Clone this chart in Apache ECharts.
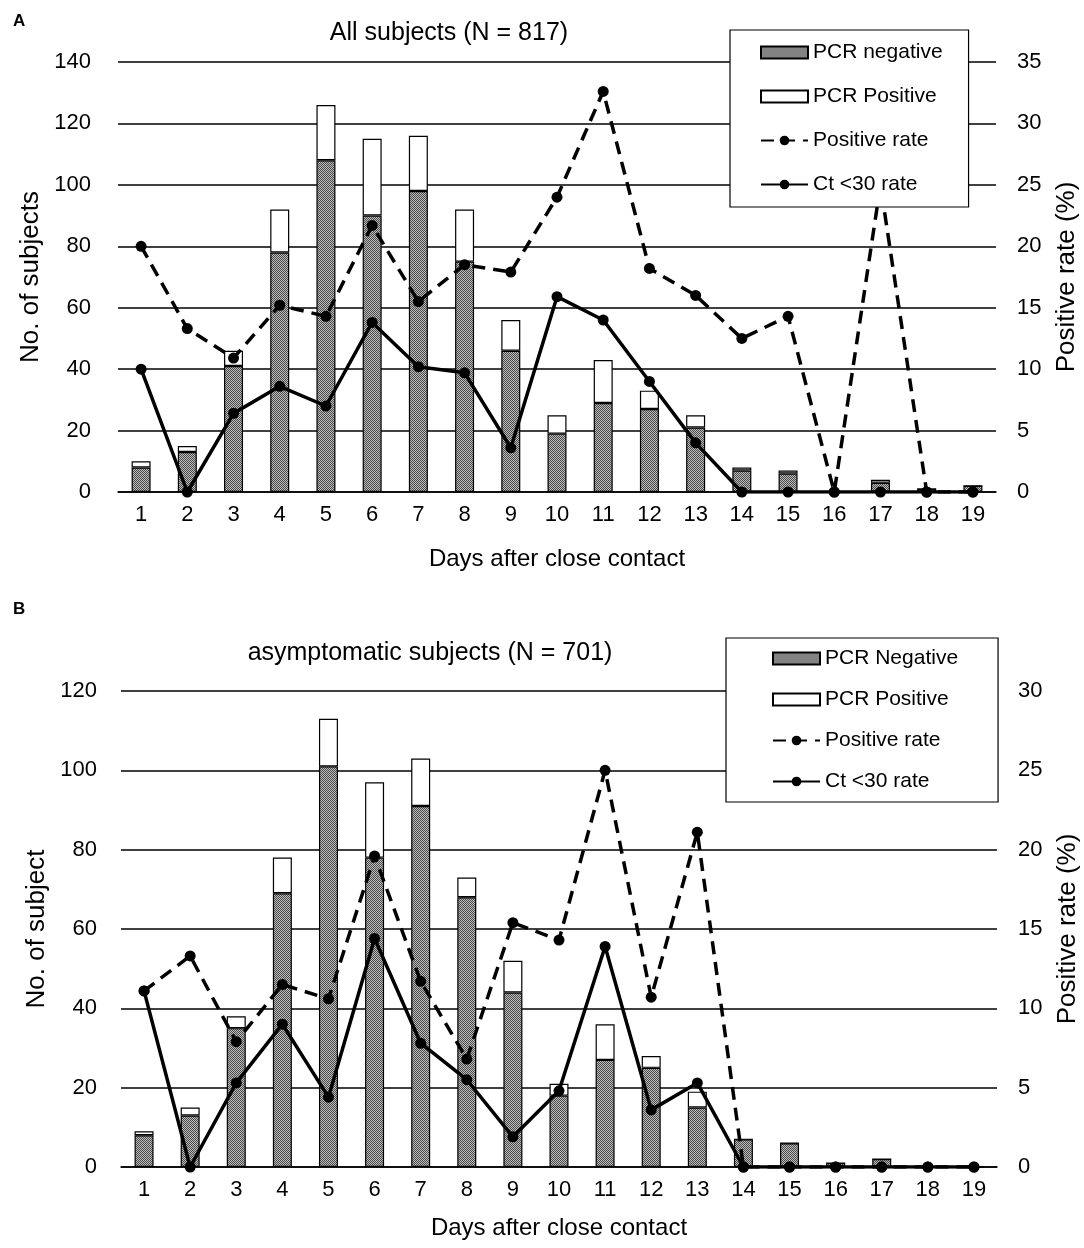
<!DOCTYPE html>
<html>
<head>
<meta charset="utf-8">
<script src="https://cdn.jsdelivr.net/npm/echarts@6/dist/echarts.min.js"></script>
<style>
  html, body { margin: 0; padding: 0; background: #fff; }
  #main { width: 1084px; height: 1248px; }
</style>
</head>
<body>
<div id="main"></div>
<script>
// ---- Data ----
const days = ['1','2','3','4','5','6','7','8','9','10','11','12','13','14','15','16','17','18','19'];

// Panel A: All subjects (N = 817)
const negA = [8, 13, 41, 78, 108, 90, 98, 75, 46, 19, 29, 27, 21, 7, 6, 0, 3, 1, 2];
const posA = [2, 2, 5, 14, 18, 25, 18, 17, 10, 6, 14, 6, 4, 1, 1, 0, 1, 0, 0];
const rateA = [20, 13.3, 10.9, 15.2, 14.3, 21.7, 15.5, 18.5, 17.9, 24, 32.6, 18.2, 16, 12.5, 14.3, 0, 25, 0, 0];
const ctA = [10, 0, 6.4, 8.6, 7.0, 13.8, 10.2, 9.7, 3.6, 15.9, 14.0, 9.0, 4.0, 0, 0, 0, 0, 0, 0];

// Panel B: asymptomatic subjects (N = 701)
const negB = [8, 13, 35, 69, 101, 78, 91, 68, 44, 18, 27, 25, 15, 7, 6, 1, 2, 0, 0];
const posB = [1, 2, 3, 9, 12, 19, 12, 5, 8, 3, 9, 3, 4, 0, 0, 0, 0, 0, 0];
const rateB = [11.1, 13.3, 7.9, 11.5, 10.6, 19.6, 11.7, 6.8, 15.4, 14.3, 25, 10.7, 21.1, 0, 0, 0, 0, 0, 0];
const ctB = [11.1, 0, 5.3, 9.0, 4.4, 14.4, 7.8, 5.5, 1.9, 4.8, 13.9, 3.6, 5.3, 0, 0, 0, 0, 0, 0];

const titleA = 'All subjects (N = 817)';
const titleB = 'asymptomatic subjects (N = 701)';

// ---- Pattern for PCR negative bars ----
const pc = document.createElement('canvas');
pc.width = 2; pc.height = 2;
const pctx = pc.getContext('2d');
pctx.fillStyle = '#bdbdbd'; pctx.fillRect(0, 0, 2, 2);
pctx.fillStyle = '#4a4a4a'; pctx.fillRect(0, 0, 1, 1); pctx.fillRect(1, 1, 1, 1);
const pattern = { image: pc, repeat: 'repeat' };

const FONT = 'Liberation Sans, Arial, sans-serif';
const txt = { fontFamily: FONT, color: '#000' };

function xAxisFor(gi, gap) {
  return {
    type: 'category', gridIndex: gi, data: days, boundaryGap: true,
    axisLine: { show: true, lineStyle: { color: '#000', width: 1.5 } },
    axisTick: { show: false },
    axisLabel: { ...txt, fontSize: 22, margin: 12 },
    name: 'Days after close contact', nameLocation: 'middle', nameGap: gap,
    nameTextStyle: { ...txt, fontSize: 24 }
  };
}
function yLeft(gi, max, name, margin, gap) {
  return {
    type: 'value', gridIndex: gi, min: 0, max: max, interval: 20, position: 'left',
    axisLine: { show: false }, axisTick: { show: false },
    axisLabel: { ...txt, fontSize: 22, margin: margin },
    splitLine: { show: true, lineStyle: { color: '#000', width: 1.5 } },
    name: name, nameLocation: 'middle', nameGap: gap, nameRotate: 90,
    nameTextStyle: { ...txt, fontSize: 26 }
  };
}
function yRight(gi, max, gap) {
  return {
    type: 'value', gridIndex: gi, min: 0, max: max, interval: 5, position: 'right',
    axisLine: { show: false }, axisTick: { show: false },
    axisLabel: { ...txt, fontSize: 22, margin: 21 },
    splitLine: { show: false },
    name: 'Positive rate (%)', nameLocation: 'middle', nameGap: gap, nameRotate: 90,
    nameTextStyle: { ...txt, fontSize: 26 }
  };
}
function barNeg(name, data, xi, yi, stack) {
  return { name: name, type: 'bar', xAxisIndex: xi, yAxisIndex: yi, stack: stack, data: data,
    barWidth: 19, itemStyle: { color: pattern, borderColor: '#000', borderWidth: 1.2 }, z: 2 };
}
function barPos(name, data, xi, yi, stack) {
  return { name: name, type: 'bar', xAxisIndex: xi, yAxisIndex: yi, stack: stack, data: data,
    barWidth: 19, itemStyle: { color: '#fff', borderColor: '#000', borderWidth: 1.2 }, z: 2 };
}
function lineS(name, data, xi, yi, dashed) {
  return { name: name, type: 'line', xAxisIndex: xi, yAxisIndex: yi, data: data,
    symbol: 'circle', symbolSize: 11, z: 3,
    lineStyle: { color: '#000', width: 3.5, type: dashed ? [13, 8] : 'solid' },
    itemStyle: { color: '#000' } };
}
function legendFor(names, left, top, gap, padding) {
  return {
    orient: 'vertical', left: left, top: top,
    data: [{ name: names[0], icon: 'rect' }, { name: names[1], icon: 'rect' }, names[2], names[3]],
    backgroundColor: '#fff', borderColor: '#000', borderWidth: 1.2,
    padding: padding, itemGap: gap, itemWidth: 47, itemHeight: 12,
    textStyle: { ...txt, fontSize: 21 }, selectedMode: false, z: 10
  };
}

const chart = echarts.init(document.getElementById('main'), null, { renderer: 'canvas' });
chart.setOption({
  backgroundColor: '#fff',
  animation: false,
  title: [
    { text: titleA, left: 444, top: 16, textAlign: 'center', textStyle: { ...txt, fontSize: 25, fontWeight: 'normal' } },
    { text: titleB, left: 425, top: 636, textAlign: 'center', textStyle: { ...txt, fontSize: 25, fontWeight: 'normal' } },
    { text: 'A', left: 8, top: 8, textStyle: { ...txt, fontSize: 17, fontWeight: 'bold' } },
    { text: 'B', left: 8, top: 596, textStyle: { ...txt, fontSize: 17, fontWeight: 'bold' } }
  ],
  grid: [
    { left: 118, top: 62, width: 878, height: 430, containLabel: false, outerBoundsMode: 'none' },
    { left: 121, top: 691, width: 876, height: 476, containLabel: false, outerBoundsMode: 'none' }
  ],
  legend: [
    legendFor(['PCR negative', 'PCR Positive', 'Positive rate', 'Ct <30 rate'], 730, 30, 23, [12, 26, 12, 30]),
    legendFor(['PCR Negative', 'PCR Positive', 'Positive rate', 'Ct <30 rate'], 726, 638, 20, [10, 40, 10, 46])
  ],
  xAxis: [xAxisFor(0, 55), xAxisFor(1, 49)],
  yAxis: [
    yLeft(0, 140, 'No. of subjects', 27, 67),
    yRight(0, 35, 58),
    yLeft(1, 120, 'No. of subject', 24, 71),
    yRight(1, 30, 58)
  ],
  series: [
    barNeg('PCR negative', negA, 0, 0, 'A'),
    barPos('PCR Positive', posA, 0, 0, 'A'),
    lineS('Positive rate', rateA, 0, 1, true),
    lineS('Ct <30 rate', ctA, 0, 1, false),
    barNeg('PCR Negative', negB, 1, 2, 'B'),
    barPos('PCR Positive', posB, 1, 2, 'B'),
    lineS('Positive rate', rateB, 1, 3, true),
    lineS('Ct <30 rate', ctB, 1, 3, false)
  ]
});
</script>
</body>
</html>
